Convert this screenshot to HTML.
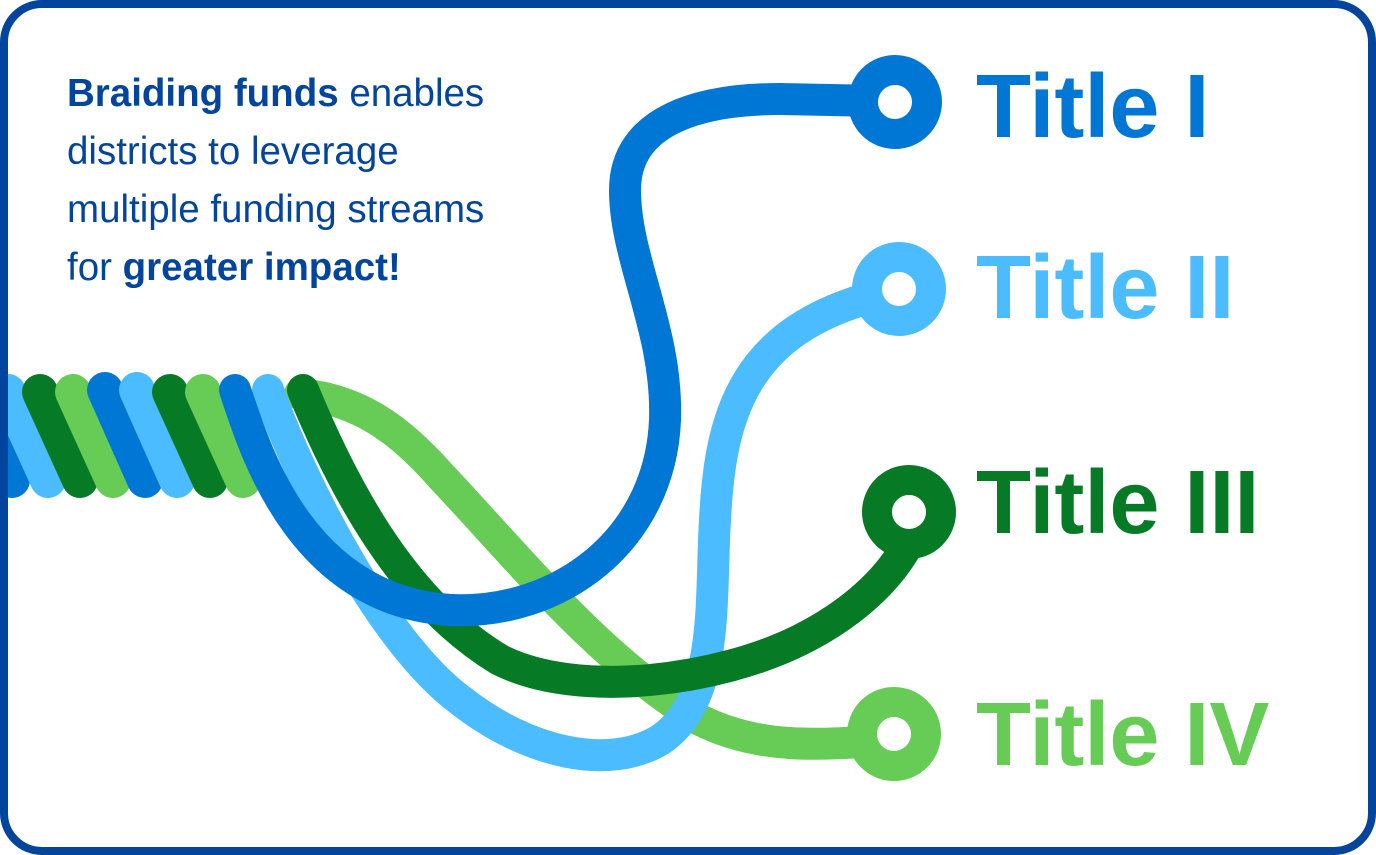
<!DOCTYPE html>
<html><head><meta charset="utf-8"><style>
html,body{margin:0;padding:0;background:#fff;}
body{width:1376px;height:855px;position:relative;overflow:hidden;font-family:"Liberation Sans",sans-serif;}
.frame{position:absolute;left:0;top:0;width:1360px;height:839px;border:8px solid #03449c;border-radius:42px;}
.txt{position:absolute;left:67px;top:65px;font-size:38.5px;line-height:58px;color:#03449c;}
.txt b{font-weight:bold;}
svg{position:absolute;left:0;top:0;}
</style></head><body>
<div class="frame"></div>
<div class="txt"><b>Braiding funds</b> enables<br>districts to leverage<br>multiple funding streams<br>for <b>greater impact!</b></div>
<svg width="1376" height="855" viewBox="0 0 1376 855">
<defs><clipPath id="c"><rect x="8" y="0" width="1360" height="855"/></clipPath></defs>
<g fill="none" stroke-width="32" stroke-linecap="round" clip-path="url(#c)">
<g stroke-width="36">
<line x1="-28" y1="392" x2="12" y2="480" stroke="#0077d4"/>
<line x1="8" y1="392" x2="48" y2="480" stroke="#4bbcff"/>
<line x1="40" y1="392" x2="80" y2="480" stroke="#067a24"/>
<line x1="73" y1="392" x2="113" y2="480" stroke="#66cc55"/>
<line x1="105" y1="390" x2="145" y2="480" stroke="#0077d4"/>
<line x1="137" y1="390" x2="177" y2="480" stroke="#4bbcff"/>
<line x1="170" y1="392" x2="210" y2="480" stroke="#067a24"/>
<line x1="203" y1="392" x2="243" y2="480" stroke="#66cc55"/>
</g>
<path d="M300,394 C360,400 400,430 440,475 C520,560 600,660 700,720 C760,750 820,745 890,740" stroke="#66cc55"/>
<path d="M268,390 C300,480 380,640 460,700 C530,755 610,770 660,740 C720,700 710,600 715,520 C720,420 740,330 880,295" stroke="#4bbcff"/>
<path d="M303,390 C340,480 400,600 500,660 C580,700 720,680 800,640 C850,615 890,580 910,540" stroke="#067a24"/>
<path d="M235,390 C255,450 300,600 450,610 C560,615 660,540 665,420 C668,330 625,260 625,190 C625,120 700,99 780,99 L880,101" stroke="#0077d4"/>
<circle cx="895" cy="102" r="32" stroke="#0077d4" stroke-width="30" fill="#fff"/>
<circle cx="899" cy="289" r="32" stroke="#4bbcff" stroke-width="30" fill="#fff"/>
<circle cx="909" cy="512" r="32" stroke="#067a24" stroke-width="30" fill="#fff"/>
<circle cx="894" cy="734" r="32" stroke="#66cc55" stroke-width="30" fill="#fff"/>
</g>
<g font-family="Liberation Sans, sans-serif" font-weight="bold" font-size="90">
<text x="976" y="137" fill="#0077d4">Title I</text>
<text x="976" y="318" fill="#4bbcff">Title II</text>
<text x="976" y="533" fill="#067a24">Title III</text>
<text x="976" y="765" fill="#66cc55">Title IV</text>
</g>
</svg>
</body></html>
